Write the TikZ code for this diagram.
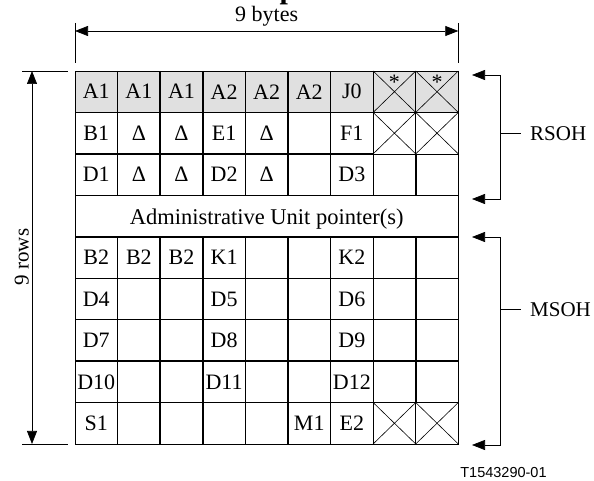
\documentclass[tikz,border=0pt]{standalone}
\usepackage{fontspec}
\setmainfont{Liberation Serif}
\newfontfamily\figsans{Liberation Sans}
\usetikzlibrary{arrows.meta}

\begin{document}
\begin{tikzpicture}[x=1pt,y=-1pt,
  thinrule/.style={line width=0.7pt},
  thickrule/.style={line width=1.6pt},
  dimline/.style={line width=0.7pt},
  tipboth/.style={{Triangle[length=13pt,width=10pt]}-{Triangle[length=13pt,width=10pt]}},
  cellfont/.style={font=\fontsize{22}{26}\selectfont},
  cell/.style={cellfont, inner sep=0pt},
  sidelabel/.style={font=\fontsize{21}{25}\selectfont, inner sep=0pt, anchor=west},
  crosscell/.style={line width=0.6pt},
]
\useasboundingbox (0,0) rectangle (594,481);

% grid corner points: column j (0..9), row k (0..9)
\foreach \j in {0,...,9}{
  \foreach \k in {0,...,9}{
    \coordinate (g\j-\k) at ({75+\j*42.59},{71+\k*41.44});
  }
}

% section overhead frame: first row is shaded
\fill[black!12] (g0-0) rectangle (g9-1);

% unused bytes are crossed out
\foreach \j/\k in {7/0,8/0,7/1,8/1,7/8,8/8}{
  \pgfmathtruncatemacro{\jn}{\j+1}
  \pgfmathtruncatemacro{\kn}{\k+1}
  \draw[crosscell] (g\j-\k) -- (g\jn-\kn) (g\jn-\k) -- (g\j-\kn);
}

% vertical rules (the pointer row has none)
\foreach \j in {1,...,6}{
  \draw[thickrule] (g\j-0) -- (g\j-3) (g\j-4) -- (g\j-9);
}
\draw[thinrule] (g7-0) -- (g7-3) (g7-4) -- (g7-9);
\draw[thinrule] (g8-0) -- (g8-2) (g8-8) -- (g8-9);
\draw[thickrule] (g8-2) -- (g8-3) (g8-4) -- (g8-8);

% horizontal rules
\foreach \k in {1,2,8}{
  \draw[thickrule] (g0-\k) -- (g7-\k);
  \draw[thinrule] (g7-\k) -- (g9-\k);
}
\foreach \k in {3,4,6,7}{
  \draw[thickrule] (g0-\k) -- (g9-\k);
}
\draw[thinrule] (g0-5) -- (g9-5);

% outer frame
\draw[thinrule] (g0-0) rectangle (g9-9);

% byte labels
\foreach \c/\r/\t in {
  1/1/A1, 2/1/A1, 3/1/A1, 4/1/A2, 5/1/A2, 6/1/A2, 7/1/J0,
  1/2/B1, 2/2/Δ, 3/2/Δ, 4/2/E1, 5/2/Δ, 7/2/F1,
  1/3/D1, 2/3/Δ, 3/3/Δ, 4/3/D2, 5/3/Δ, 7/3/D3,
  1/5/B2, 2/5/B2, 3/5/B2, 4/5/K1, 7/5/K2,
  1/6/D4, 4/6/D5, 7/6/D6,
  1/7/D7, 4/7/D8, 7/7/D9,
  1/8/D10, 4/8/D11, 7/8/D12,
  1/9/S1, 6/9/M1, 7/9/E2}{
  \node[cell] (c\c-\r) at ({75+(\c-0.5)*42.59},{71+(\r-0.5)*41.44}) {\t};
}
\node[cell, anchor=base] (star8) at ({75+7.5*42.59},89.5) {*};
\node[cell, anchor=base] (star9) at ({75+8.5*42.59},89.5) {*};

% pointer row
\node[font=\fontsize{22.5}{27}\selectfont, inner sep=0pt, anchor=base] (aupointer)
  at ({75+4.5*42.59},224) {Administrative Unit pointer(s)};

% width dimension
\coordinate (wl) at (75,31);
\coordinate (wr) at (458.31,31);
\coordinate (wlt) at (75,23);
\coordinate (wlb) at (75,63);
\coordinate (wrt) at (458.31,23);
\coordinate (wrb) at (458.31,63);
\draw[dimline] (wlt) -- (wlb) (wrt) -- (wrb);
\draw[dimline, tipboth] (wl) -- (wr);
\node[cell, anchor=base] (bytes) at (266.7,21.5) {9 bytes};

% height dimension
\coordinate (ht) at (32,71);
\coordinate (hb) at (32,443.96);
\coordinate (htl) at (22,71);
\coordinate (htr) at (68,71);
\coordinate (hbl) at (22,443.96);
\coordinate (hbr) at (68,443.96);
\draw[dimline] (htl) -- (htr) (hbl) -- (hbr);
\draw[dimline, tipboth] (ht) -- (hb);
\node[font=\fontsize{21}{25}\selectfont, inner sep=0pt, rotate=90, anchor=base] (rows) at (28.5,257) {9 rows};

% regenerator section overhead bracket
\coordinate (ra) at (472,75);
\coordinate (rb) at (500,75);
\coordinate (rc) at (500,199);
\coordinate (rd) at (472,199);
\coordinate (rm) at (500,133);
\coordinate (rt) at (521,133);
\draw[dimline, tipboth] (ra) -- (rb) -- (rc) -- (rd);
\draw[dimline] (rm) -- (rt);
\node[sidelabel] (rsoh) at (530,134) {RSOH};

% multiplex section overhead bracket
\coordinate (ma) at (472,237);
\coordinate (mb) at (500,237);
\coordinate (mc) at (500,445);
\coordinate (md) at (472,445);
\coordinate (mm) at (500,309);
\coordinate (mt) at (521,309);
\draw[dimline, tipboth] (ma) -- (mb) -- (mc) -- (md);
\draw[dimline] (mm) -- (mt);
\node[sidelabel] (msoh) at (530,310) {MSOH};

% figure reference number
\node[font=\figsans\fontsize{14.5}{17}\selectfont, inner sep=0pt] (figref) at (503.5,473) {T1543290-01};

% foot of the heading letter running off the top edge
\begin{scope}
  \clip (0,0) rectangle (594,481);
  \node[font=\fontsize{30}{34}\selectfont\bfseries, inner sep=0pt, anchor=base west] (headfoot) at (279.5,-1.5) {p};
\end{scope}
\end{tikzpicture}
\end{document}
